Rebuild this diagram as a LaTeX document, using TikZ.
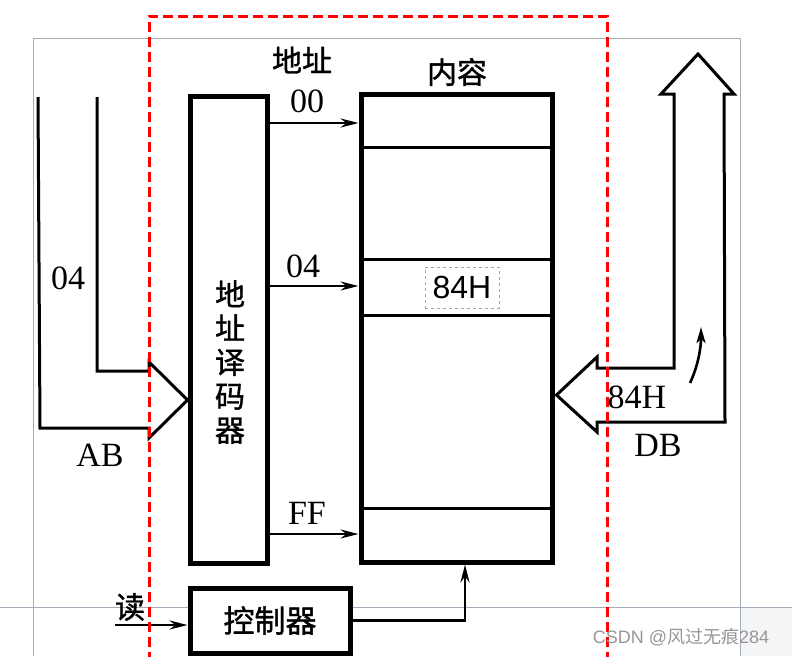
\documentclass[tikz,border=0pt]{standalone}
\usepackage{fontspec}
\setmainfont{Liberation Serif}
\newfontfamily\cjk[FakeBold=1.2]{Noto Sans CJK SC}
\newfontfamily\cjkw{Noto Sans CJK SC}
\newfontfamily\sansf{Liberation Sans}
\usetikzlibrary{arrows.meta}
\definecolor{framegray}{RGB}{165,172,185}
\definecolor{wmgray}{RGB}{150,150,150}
\begin{document}
\begin{tikzpicture}[x=1pt,y=-1pt,
  blk/.style={draw=black,line width=5pt,inner sep=0pt,fill=white},
  bus/.style={draw=black,line width=3pt,line join=miter},
  arr/.style={line width=2.4pt,-{Stealth[length=18pt,width=9pt,inset=6pt]}},
  lab/.style={inner sep=0pt,font=\fontsize{34}{36}\selectfont},
  cjklab/.style={inner sep=0pt,font=\cjk\fontsize{30}{34}\selectfont},
  cell/.style={line width=3pt},
  reddash/.style={draw=red,line width=3pt,dash pattern=on 10pt off 5pt}]
\useasboundingbox (0,0) rectangle (792,656);
% light frame of the screenshot
\fill[fill=framegray!12] (740,607) rectangle (792,656);
\draw[framegray,line width=1pt] (33,656) -- (33,38) -- (740,38) -- (740,656);
\draw[framegray,line width=1pt] (0,607) -- (792,607);

% blocks
\node[blk,minimum width=77pt,minimum height=467pt] (dec) at (228.5,329.5) {};
\node[blk,minimum width=191pt,minimum height=468pt] (mem) at (456.5,328) {};
\node[blk,minimum width=160pt,minimum height=65pt,font=\cjk\fontsize{31}{34}\selectfont] (ctl) at (270,620.5) {控制器};
\node[cjklab,align=center] (dectxt) at (230,362) {地\\址\\译\\码\\器};

% memory cells
\coordinate (c1) at (0,147);
\coordinate (c2) at (0,259);
\coordinate (c3) at (0,315);
\coordinate (c4) at (0,508);
\foreach \c in {c1,c2,c3,c4}
  \draw[cell] (mem.west |- \c) -- (mem.east |- \c);
\node[draw=gray!70,dashed,line width=0.8pt,minimum width=74pt,minimum height=41pt,inner sep=0pt,font=\sansf\fontsize{32}{34}\selectfont] (v84) at (462,287.5) {84H};

% address lines
\coordinate (r00) at (0,123);
\coordinate (r04) at (0,286);
\coordinate (rFF) at (0,534);
\foreach \r in {r00,r04,rFF}
  \draw[arr] (dec.east |- \r) -- (mem.west |- \r);
\node[lab] (l00) at (307,101) {00};
\node[lab] (l04) at (303,266) {04};
\node[lab] (lFF) at (307,513) {FF};
\node[cjklab] (ladr) at (302,60) {地址};
\node[cjklab] (lcon) at (457,72) {内容};

% AB bus
\coordinate (abtip) at (0,400);
\draw[bus] (38,97) -- (40,428) -- (149,428) -- (149,438) -- (dec.west |- abtip)
  -- (149,362) -- (149,371) -- (97,371) -- (97,97);
\node[lab] (lab04) at (68,278) {04};
\node[lab] (lAB) at (100,455) {AB};

% DB bus
\coordinate (dbtip) at (0,395);
\draw[bus] (661,94) -- (698,54) -- (734,94) -- (724,94) -- (725,422) -- (597,422)
  -- (597,432) -- ([xshift=2pt]mem.east |- dbtip) -- (597,357) -- (597,368) -- (674,368)
  -- (674,94) -- cycle;
\draw[line width=2.6pt,-{Stealth[length=16pt,width=9pt,inset=4pt]}] (690,383) .. controls (698,366) and (701,348) .. (701,327);

% read / control
\coordinate (rin) at (115,625);
\draw[arr] (rin) -- (ctl.west |- rin);
\node[cjklab] (lread) at (130,607) {读};
\coordinate (ox) at (465,0);
\draw[arr] (ctl.east) -- (ctl.east -| ox) -- (mem.south -| ox);

% red dashed frame
\draw[reddash] (149,662) -- (149,16) -- (607,16) -- (607,662);

\node[lab] (l84) at (637,397) {84H};
\node[lab] (lDB) at (658,445) {DB};

% watermark
\node[inner sep=0pt,text=wmgray,font=\fontsize{18}{20}\selectfont] (wm) at (681,637) {\sansf CSDN @\cjkw 风过无痕\sansf 284};
\end{tikzpicture}
\end{document}
